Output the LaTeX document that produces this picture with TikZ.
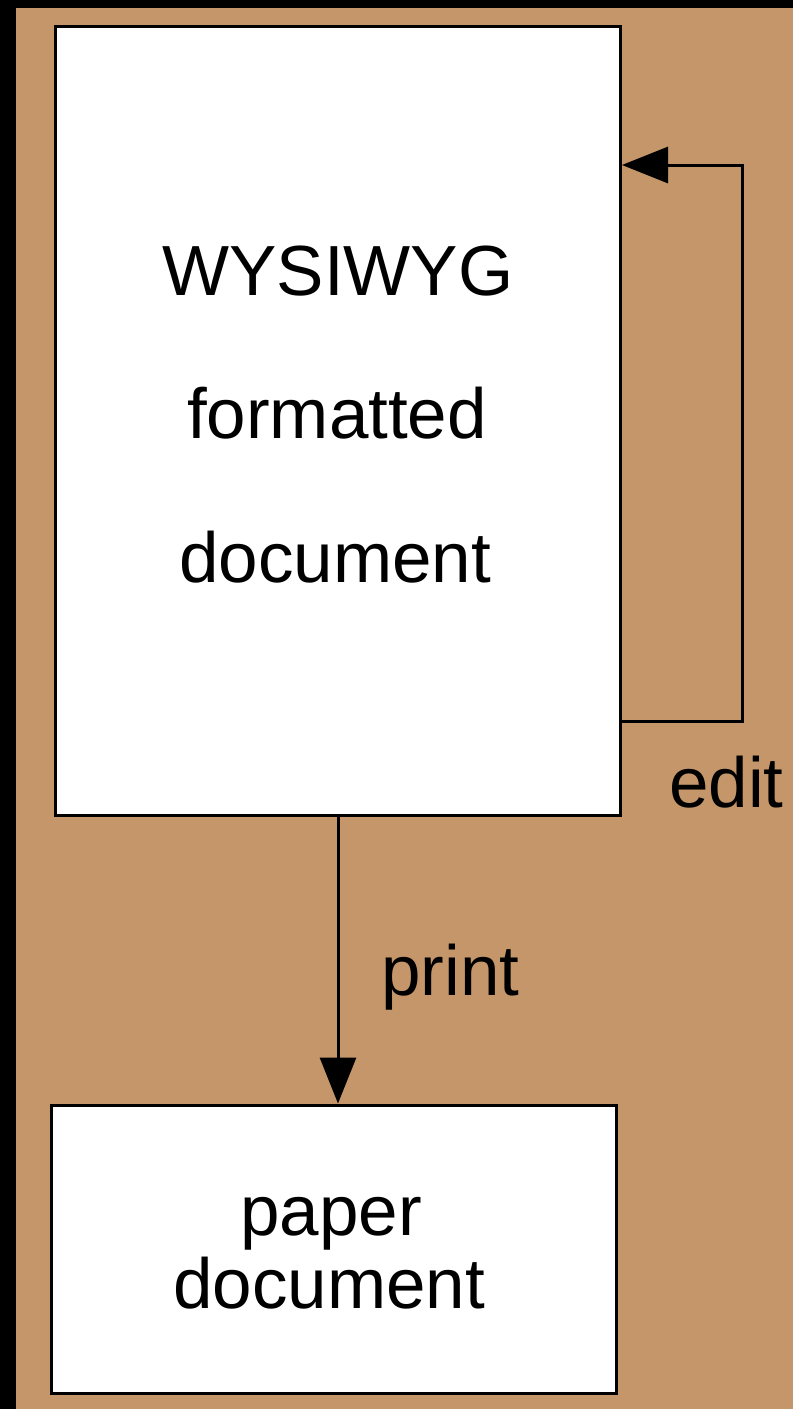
\documentclass[tikz,border=0pt]{standalone}
\usepackage{fontspec}
\setmainfont{Liberation Sans}
\usetikzlibrary{arrows.meta}
\definecolor{tanbg}{RGB}{196,150,106}
\begin{document}
\begin{tikzpicture}[x=1pt,y=-1pt,
  box/.style={draw=black, fill=white, line width=3pt, inner sep=0pt},
  lbl/.style={font=\fontsize{71}{73}\selectfont, anchor=base, inner sep=0pt},
  conn/.style={line width=3pt, -{Triangle[length=46pt,width=36pt]}}]
\fill[black] (0,0) rectangle (793,1409);
\fill[tanbg] (16,8) rectangle (793,1409);
\useasboundingbox (0,0) rectangle (793,1409);
\node[box, minimum width=565pt, minimum height=789pt] (wys) at (338,421) {};
\node[box, minimum width=565pt, minimum height=288pt] (paper) at (334,1249) {};
\node[lbl] (t1) at (338,295) {WYSIWYG};
\node[lbl] (t2) at (337,438) {formatted};
\node[lbl] (t3) at (335,582) {document};
\node[lbl] (p1) at (331,1235) {paper};
\node[lbl] (p2) at (329,1308) {document};
\node[lbl, anchor=base west] (edit) at (669,807) {edit};
\node[lbl, anchor=base west] (print) at (381,995) {print};
\coordinate (eb) at (742,721);
\coordinate (et) at (742,165);
\draw[conn] (wys.east |- eb) -- (eb) -- (et) -- (wys.east |- et);
\draw[conn] (wys.south) -- (wys.south |- paper.north);
\end{tikzpicture}
\end{document}
